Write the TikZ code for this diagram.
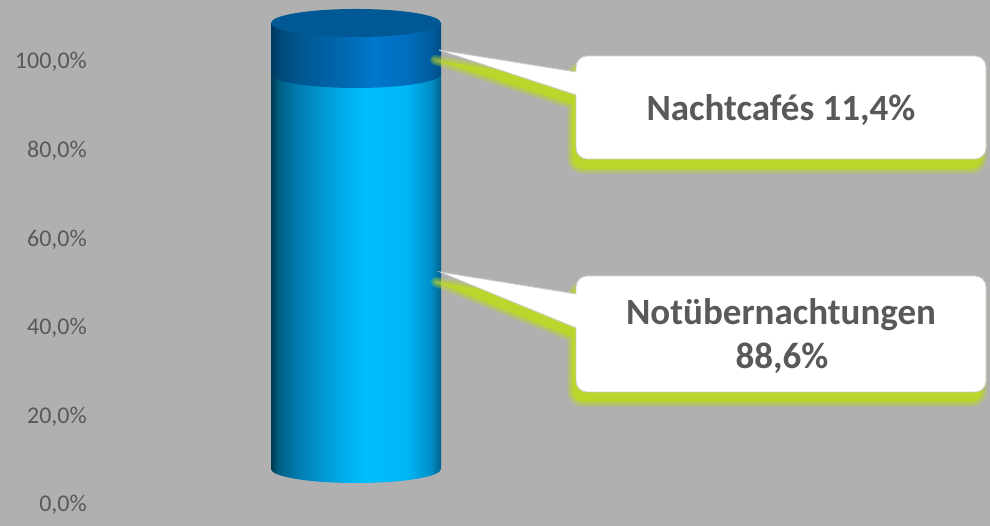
\documentclass[tikz,border=0pt]{standalone}
\usepackage{fontspec}
\setmainfont{Carlito}
\usetikzlibrary{calc}
\definecolor{bg}{RGB}{176,176,176}
\definecolor{txt}{RGB}{89,89,89}
\definecolor{shadowgreen}{RGB}{186,214,44}
\definecolor{topcap}{RGB}{0,88,148}
\definecolor{calloutline}{RGB}{205,205,205}
\pgfdeclarehorizontalshading{cylLight}{100bp}{rgb(0bp)=(0,0.22,0.32); rgb(25bp)=(0,0.22,0.32); rgb(27bp)=(0,0.36,0.50); rgb(32.5bp)=(0,0.48,0.68); rgb(42.5bp)=(0,0.63,0.86); rgb(52.5bp)=(0,0.75,1); rgb(65bp)=(0,0.71,0.96); rgb(72bp)=(0,0.56,0.78); rgb(75bp)=(0,0.38,0.55); rgb(100bp)=(0,0.38,0.55)}
\pgfdeclarehorizontalshading{cylDark}{100bp}{rgb(0bp)=(0,0.22,0.38); rgb(25bp)=(0,0.22,0.38); rgb(28bp)=(0,0.29,0.48); rgb(35bp)=(0,0.35,0.58); rgb(45bp)=(0,0.40,0.68); rgb(55bp)=(0,0.47,0.80); rgb(65bp)=(0,0.43,0.74); rgb(72bp)=(0,0.36,0.62); rgb(75bp)=(0,0.30,0.52); rgb(100bp)=(0,0.30,0.52)}
\begin{document}
\begin{tikzpicture}[x=1pt,y=1pt,
  axislabel/.style={anchor=base east, inner sep=0pt, text=txt, font=\fontsize{24}{28}\selectfont},
  callouttext/.style={anchor=base, inner sep=0pt, text=txt, font=\fontsize{37}{44}\selectfont\bfseries},
  calloutbox/.style={draw=calloutline, line width=0.8pt, fill=white, rounded corners=11pt, minimum width=410pt, inner sep=0pt},
  pointerline/.style={draw=calloutline, line width=0.8pt},
]
\fill[bg] (0,0) rectangle (990,526);
\useasboundingbox (0,0) rectangle (990,526);

% axis labels
\node[axislabel] (l100) at (87,457) {100,0\%};
\node[axislabel] (l80) at (87,368.4) {80,0\%};
\node[axislabel] (l60) at (87,279.8) {60,0\%};
\node[axislabel] (l40) at (87,191.2) {40,0\%};
\node[axislabel] (l20) at (87,102.6) {20,0\%};
\node[axislabel] (l0) at (87,14) {0,0\%};

% cylinder
\shade[shading=cylLight] (271,452) -- (271,57) arc[start angle=180,end angle=360,x radius=85pt,y radius=14pt] -- (441,452) -- cycle;
\shade[shading=cylDark] (271,503) -- (271,452) arc[start angle=180,end angle=360,x radius=85pt,y radius=14pt] -- (441,503) -- cycle;
\fill[topcap] (356,503) ellipse[x radius=85pt,y radius=14pt];

\coordinate (tipA) at (439,476);
\coordinate (tipB) at (440,254);

% shadows
\foreach \w/\o in {10/0.25,7/0.25,4/0.3}{
  \begin{scope}[shift={(-4,-10)}, transparency group, opacity=\o]
    \path[draw=shadowgreen, fill=shadowgreen, line width=\w pt, line join=round] (439,476) -- (578,454) -- (578,431) -- cycle;
    \path[draw=shadowgreen, fill=shadowgreen, line width=\w pt, rounded corners=11pt] (576,367) rectangle (986,470);
    \path[draw=shadowgreen, fill=shadowgreen, line width=\w pt, line join=round] (440,254) -- (578,232) -- (578,198) -- cycle;
    \path[draw=shadowgreen, fill=shadowgreen, line width=\w pt, rounded corners=11pt] (576,134) rectangle (986,250);
  \end{scope}
}
\begin{scope}[shift={(-4,-10)}]
  \fill[shadowgreen] (439,476) -- (578,454) -- (578,431) -- cycle;
  \fill[shadowgreen, rounded corners=11pt] (576,367) rectangle (986,470);
  \fill[shadowgreen] (440,254) -- (578,232) -- (578,198) -- cycle;
  \fill[shadowgreen, rounded corners=11pt] (576,134) rectangle (986,250);
\end{scope}

% callout A
\node[calloutbox, minimum height=103pt] (boxA) at (781,418.5) {};
\fill[white] (tipA) -- ($(boxA.west)+(2,35.5)$) -- ($(boxA.west)+(2,12.5)$) -- cycle;
\draw[pointerline] ($(boxA.west)+(0,35.5)$) -- (tipA) -- ($(boxA.west)+(0,12.5)$);
\node[callouttext] (tA) at (781,405) {Nachtcafés 11,4\%};

% callout B
\node[calloutbox, minimum height=116pt] (boxB) at (781,192) {};
\fill[white] (tipB) -- ($(boxB.west)+(2,40)$) -- ($(boxB.west)+(2,6)$) -- cycle;
\draw[pointerline] ($(boxB.west)+(0,40)$) -- (tipB) -- ($(boxB.west)+(0,6)$);
\node[callouttext] (tB1) at (781,201) {Notübernachtungen};
\node[callouttext] (tB2) at (782,157) {88,6\%};
\end{tikzpicture}
\end{document}
